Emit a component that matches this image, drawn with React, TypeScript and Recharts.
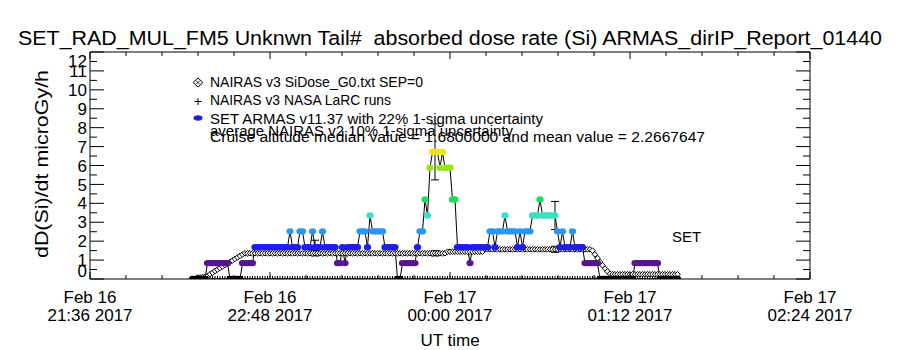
import React from 'react';
import { ComposedChart, Line, Scatter, ErrorBar, XAxis, YAxis } from 'recharts';

// minutes after Feb 16 21:36 UT
const startMinute = 41;

// SET ARMAS v11.37 absorbed dose rate, one value per minute from startMinute
const armasDose = [
  // 41..46
  0, 0, 0, 0, 0, 0,
  // 47..55
  0.84, 0.84, 0.84, 0.84, 0.84, 0.84, 0.84, 0.84, 0.84,
  // 56..60
  0, 0, 0, 0, 0,
  // 61..65
  0.84, 0.84, 0.84, 0.84, 0.84,
  // 66..79
  1.68, 1.68, 1.68, 1.68, 1.68, 1.68, 1.68, 1.68, 1.68, 1.68, 1.68, 1.68, 1.68, 1.68,
  // 80..98
  2.52, 1.68, 1.68, 1.68, 2.52, 2.52, 1.68, 1.68, 1.68, 2.52, 1.68, 1.68, 1.68, 2.52, 1.68, 1.68, 1.68, 1.68, 1.68,
  // 99..122
  0.84, 0.84, 1.68, 0.84, 1.68, 1.68, 1.68, 1.68, 1.68, 2.52, 2.52, 2.52, 1.68, 3.36, 2.52, 2.52, 2.52, 2.52, 2.52,
  1.68, 1.68, 1.68, 1.68, 1.68,
  // 123..146
  0, 0, 0.84, 0.84, 0.84, 0.84, 0.84, 0.84, 1.68, 2.52, 2.52, 4.2, 3.36, 5.88, 6.72, 6.72, 6.72, 5.88, 6.72, 5.88,
  5.88, 5.88, 4.2, 4.2,
  // 147..176
  1.68, 1.68, 1.68, 1.68, 1.68, 0.84, 1.68, 1.68, 1.68, 1.68, 1.68, 1.68, 1.68, 2.52, 2.52, 1.68, 2.52, 2.52, 2.52,
  3.36, 2.52, 2.52, 2.52, 2.52, 1.68, 2.52, 1.68, 2.52, 2.52, 2.52,
  // 177..197
  3.36, 3.36, 3.36, 4.2, 3.36, 3.36, 3.36, 3.36, 3.36, 3.36, 2.52, 1.68, 2.52, 1.68, 1.68, 1.68, 2.52, 1.68, 1.68,
  1.68, 1.68,
  // 198..203
  0.84, 0.84, 0.84, 0.84, 0.84, 0.84,
  // 204..217
  0, 0, 0, 0, 0, 0, 0, 0, 0, 0, 0, 0, 0, 0,
  // 218..227
  0.84, 0.84, 0.84, 0.84, 0.84, 0.84, 0.84, 0.84, 0.84, 0.84,
  // 228..235
  0, 0, 0, 0, 0, 0, 0, 0,
];

// NAIRAS v3 SiDose_G0.txt SEP=0, same minutes
const nairasDose = [
  null, null,
  0.08, 0.08, 0.1, 0.12,
  0.16, 0.25, 0.33, 0.42, 0.5, 0.58, 0.66, 0.74, 0.82, 0.9, 0.98, 1.06, 1.14, 1.22, 1.3, 1.36,
  // 63..142
  1.36, 1.36, 1.36, 1.36, 1.36, 1.36, 1.36, 1.36, 1.36, 1.36,
  1.36, 1.36, 1.36, 1.36, 1.36, 1.36, 1.36, 1.36, 1.36, 1.36,
  1.36, 1.36, 1.36, 1.36, 1.36, 1.36, 1.36, 1.36, 1.36, 1.36,
  1.36, 1.36, 1.36, 1.36, 1.36, 1.36, 1.36, 1.36, 1.36, 1.36,
  1.36, 1.36, 1.36, 1.36, 1.36, 1.36, 1.36, 1.36, 1.36, 1.36,
  1.36, 1.36, 1.36, 1.36, 1.36, 1.36, 1.36, 1.36, 1.36, 1.36,
  1.36, 1.36, 1.36, 1.36, 1.36, 1.36, 1.36, 1.36, 1.36, 1.36,
  1.36, 1.36, 1.36, 1.36, 1.36, 1.36, 1.36, 1.36, 1.36, 1.36,
  // 143..157
  1.44, 1.44, 1.44, 1.44, 1.44, 1.44, 1.44, 1.44, 1.44, 1.44, 1.44, 1.44, 1.44, 1.44, 1.44,
  // 158..200
  1.57, 1.57, 1.57, 1.57, 1.57, 1.57, 1.57, 1.57, 1.57, 1.57,
  1.57, 1.57, 1.57, 1.57, 1.57, 1.57, 1.57, 1.57, 1.57, 1.57,
  1.57, 1.57, 1.57, 1.57, 1.57, 1.57, 1.57, 1.57, 1.57, 1.57,
  1.57, 1.57, 1.57, 1.57, 1.57, 1.57, 1.57, 1.57, 1.57, 1.57,
  1.57, 1.57, 1.57,
  // 201..208
  1.5, 1.3, 1.1, 0.9, 0.72, 0.55, 0.4, 0.28,
  // 209..235
  0.25, 0.25, 0.25, 0.25, 0.25, 0.25, 0.25, 0.25, 0.25, 0.25,
  0.25, 0.25, 0.25, 0.25, 0.25, 0.25, 0.25, 0.25, 0.25, 0.25,
  0.25, 0.25, 0.25, 0.25, 0.25, 0.25, 0.25,
];

// NAIRAS v3 NASA LaRC runs (flat at zero along the flight)
const larcDose = [
  0, 0, 0, 0, 0, 0, 0, 0, 0, 0, 0, 0, 0, 0, 0,
  0, 0, 0, 0, 0, 0, 0, 0, 0, 0, 0, 0, 0, 0, 0,
  0, 0, 0, 0, 0, 0, 0, 0, 0, 0, 0, 0, 0, 0, 0,
  0, 0, 0, 0, 0, 0, 0, 0, 0, 0, 0, 0, 0, 0, 0,
  0, 0, 0, 0, 0, 0, 0, 0, 0, 0, 0, 0, 0, 0, 0,
  0, 0, 0, 0, 0, 0, 0, 0, 0, 0, 0, 0, 0, 0, 0,
  0, 0, 0, 0, 0, 0, 0, 0, 0, 0, 0, 0, 0, 0, 0,
  0, 0, 0, 0, 0, 0, 0, 0, 0, 0, 0, 0, 0, 0, 0,
  0, 0, 0, 0, 0, 0, 0, 0, 0, 0, 0, 0, 0, 0, 0,
  0, 0, 0, 0, 0, 0, 0, 0, 0, 0, 0, 0, 0, 0, 0,
  0, 0, 0, 0, 0, 0, 0, 0, 0, 0, 0, 0, 0, 0, 0,
  0, 0, 0, 0, 0, 0, 0, 0, 0, 0, 0, 0, 0, 0, 0,
  0, 0, 0, 0, 0, 0, 0, 0, 0, 0, 0, 0, 0, 0, 0,
];

// error bars (1-sigma) at a few sample times
const errMinutes = [90, 138, 186];
const armasErrDose = [1.68, 6.72, 3.36];
const armasErrSigma = [0.37, 1.48, 0.74]; // 22%
const nairasErrDose = [1.36, 1.36, 1.57];
const nairasErrSigma = [0.14, 0.14, 0.16]; // 10%

const majorMinutes = [0, 72, 144, 216, 288];
const tickDates = ['Feb 16', 'Feb 16', 'Feb 17', 'Feb 17', 'Feb 17'];
const tickTimes = ['21:36 2017', '22:48 2017', '00:00 2017', '01:12 2017', '02:24 2017'];
const yLabels = [0, 1, 2, 3, 4, 5, 6, 7, 8, 9, 10, 11, 12];

const FONT = '"Liberation Sans", Arial, sans-serif';

const data = armasDose.map((v, i) => ({
  t: startMinute + i,
  armas: v,
  nairas: nairasDose[i],
  larc: larcDose[i],
}));
const armasErrData = errMinutes.map((t, i) => ({ t, v: armasErrDose[i], err: armasErrSigma[i] }));
const nairasErrData = errMinutes.map((t, i) => ({ t, v: nairasErrDose[i], err: nairasErrSigma[i] }));

const xTicks = Array.from({ length: 21 }, (_, i) => (i * 72) / 5);
const yTicks = Array.from({ length: 25 }, (_, i) => i / 2);

// rainbow colour table by dose level
const levelColor = (v: number) => {
  if (v <= 0.01) return '#000000';
  if (v < 1.2) return '#56168c';
  if (v < 2.0) return '#1e1eec';
  if (v < 2.9) return '#2a96f0';
  if (v < 3.8) return '#3ee0c4';
  if (v < 5.0) return '#18e05a';
  if (v < 6.3) return '#96e61a';
  return '#ece41a';
};

const majorIdx = (v: number) => majorMinutes.findIndex((m) => Math.abs(m - v) < 1e-6);

const BottomTick = (p: any) => {
  const idx = majorIdx(p.payload.value);
  return (
    <g>
      <line x1={p.x} y1={p.y} x2={p.x} y2={p.y - (idx >= 0 ? 7 : 4)} stroke="#000" />
      {idx >= 0 && (
        <text x={p.x} y={p.y} textAnchor="middle" fontSize={17} fontFamily={FONT} fill="#000">
          <tspan x={p.x} dy={24}>{tickDates[idx]}</tspan>
          <tspan x={p.x} dy={18}>{tickTimes[idx]}</tspan>
        </text>
      )}
    </g>
  );
};

const TopTick = (p: any) => {
  const idx = majorIdx(p.payload.value);
  if (p.x < 89 || p.x > 811) return <g />;
  return <line x1={p.x} y1={p.y} x2={p.x} y2={p.y + (idx >= 0 ? 7 : 4)} stroke="#000" />;
};

const LeftTick = (p: any) => {
  const v = p.payload.value;
  const major = Number.isInteger(v);
  const shift = v === 0 ? -8 : v === 12 ? 9 : 0;
  return (
    <g>
      <line x1={p.x} y1={p.y} x2={p.x + (major ? 14 : 7)} y2={p.y} stroke="#000" />
      {major && yLabels.includes(v) && (
        <text x={p.x - 3} y={p.y + shift} dy="0.36em" textAnchor="end" fontSize={17} fontFamily={FONT} fill="#000">
          {v}
        </text>
      )}
    </g>
  );
};

const RightTick = (p: any) => {
  const major = Number.isInteger(p.payload.value);
  return <line x1={p.x} y1={p.y} x2={p.x - (major ? 14 : 7)} y2={p.y} stroke="#000" />;
};

const ArmasDot = (p: any) => {
  if (p.cy == null || p.value == null) return <g key={`a${p.index}`} />;
  return <ellipse key={`a${p.index}`} cx={p.cx} cy={p.cy} rx={3.6} ry={3.2} fill={levelColor(p.value)} />;
};

const DiamondDot = (p: any) => {
  if (p.cy == null || p.value == null) return <g key={`n${p.index}`} />;
  const { cx, cy } = p;
  return (
    <polygon
      key={`n${p.index}`}
      points={`${cx},${cy - 2.8} ${cx + 2.8},${cy} ${cx},${cy + 2.8} ${cx - 2.8},${cy}`}
      fill="#fff"
      stroke="#000"
      strokeWidth={1}
    />
  );
};

const PlusDot = (p: any) => {
  if (p.cy == null || p.value == null) return <g key={`l${p.index}`} />;
  const { cx, cy } = p;
  return <path key={`l${p.index}`} d={`M${cx - 2.5},${cy}H${cx + 2.5}M${cx},${cy - 3}V${cy + 3}`} stroke="#000" strokeWidth={1} />;
};

const txt = { fontFamily: FONT, fill: '#000' };

export default function App() {
  return (
    <div style={{ position: 'absolute', left: 0, top: 0, width: 900, height: 350, background: '#fff' }}>
      <ComposedChart width={900} height={350} data={data} margin={{ top: 22, right: 0, bottom: 0, left: 0 }}>
        <XAxis
          dataKey="t"
          type="number"
          domain={[0, 288]}
          allowDataOverflow
          ticks={xTicks}
          interval={0}
          height={71}
          tickSize={0}
          tickMargin={0}
          tickLine={false}
          axisLine={{ stroke: '#000' }}
          tick={BottomTick}
        />
        <XAxis
          xAxisId="top"
          dataKey="t"
          orientation="top"
          type="number"
          domain={[0, 288]}
          allowDataOverflow
          ticks={xTicks}
          interval={0}
          height={30}
          tickSize={0}
          tickMargin={0}
          tickLine={false}
          axisLine={{ stroke: '#000' }}
          tick={TopTick}
        />
        <YAxis
          type="number"
          domain={[0, 12]}
          allowDataOverflow
          ticks={yTicks}
          interval={0}
          width={90}
          tickSize={0}
          tickMargin={0}
          tickLine={false}
          axisLine={{ stroke: '#000' }}
          tick={LeftTick}
        />
        <YAxis
          yAxisId="right"
          orientation="right"
          type="number"
          domain={[0, 12]}
          allowDataOverflow
          ticks={yTicks}
          interval={0}
          width={90}
          tickSize={0}
          tickMargin={0}
          tickLine={false}
          axisLine={{ stroke: '#000' }}
          tick={RightTick}
        />
        {/* invisible series so the top and right frame axes share the plot scales */}
        <Line xAxisId="top" yAxisId="right" dataKey="armas" stroke="none" dot={false} activeDot={false} isAnimationActive={false} />
        <Line dataKey="nairas" stroke="none" dot={DiamondDot} activeDot={false} isAnimationActive={false} connectNulls={false} />
        <Line dataKey="larc" stroke="none" dot={PlusDot} activeDot={false} isAnimationActive={false} />
        <Line dataKey="armas" stroke="#000" strokeWidth={1} type="linear" dot={ArmasDot} activeDot={false} isAnimationActive={false} />
        <Scatter data={nairasErrData} dataKey="v" shape={() => <g />} isAnimationActive={false}>
          <ErrorBar dataKey="err" direction="y" width={4} stroke="#000" strokeWidth={1} isAnimationActive={false} />
        </Scatter>
        <Scatter data={armasErrData} dataKey="v" shape={() => <g />} isAnimationActive={false}>
          <ErrorBar dataKey="err" direction="y" width={4} stroke="#000" strokeWidth={1} isAnimationActive={false} />
        </Scatter>
      </ComposedChart>

      <svg width={900} height={350} style={{ position: 'absolute', left: 0, top: 0, pointerEvents: 'none' }}>
        <text x={18} y={45} fontSize={20} textLength={864} lengthAdjust="spacingAndGlyphs" {...txt}>
          {'SET_RAD_MUL_FM5 Unknwn Tail#\u00a0 absorbed dose rate (Si) ARMAS_dirIP_Report_01440'}
        </text>
        <text
          x={0}
          y={0}
          transform="translate(48,164) rotate(-90)"
          textAnchor="middle"
          fontSize={18}
          textLength={188}
          lengthAdjust="spacingAndGlyphs"
          {...txt}
        >
          dD(Si)/dt microGy/h
        </text>
        <text x={450} y={346} textAnchor="middle" fontSize={17} {...txt}>UT time</text>

        {/* legend */}
        <polygon points="198,78 203,82.5 198,87 193,82.5" fill="#fff" stroke="#000" strokeWidth={1} />
        <path d="M196,80.5L200,84.5M200,80.5L196,84.5" stroke="#000" strokeWidth={0.8} />
        <path d="M194.5,101.5H201.5M198,98V105" stroke="#000" strokeWidth={1} />
        <ellipse cx={198} cy={118} rx={4.5} ry={2.8} fill="#1e1eec" />
        <text x={210} y={86.5} fontSize={14} textLength={213} lengthAdjust="spacingAndGlyphs" {...txt}>
          NAIRAS v3 SiDose_G0.txt SEP=0
        </text>
        <text x={210} y={105} fontSize={14} textLength={181} lengthAdjust="spacingAndGlyphs" {...txt}>
          NAIRAS v3 NASA LaRC runs
        </text>
        <text x={210} y={123.5} fontSize={14} textLength={333} lengthAdjust="spacingAndGlyphs" {...txt}>
          SET ARMAS v11.37 with 22% 1-sigma uncertainty
        </text>
        <text x={210} y={136} fontSize={14} textLength={303} lengthAdjust="spacingAndGlyphs" {...txt}>
          average NAIRAS v2 10% 1-sigma uncertainty
        </text>
        <text x={210} y={142} fontSize={14} textLength={495} lengthAdjust="spacingAndGlyphs" {...txt}>
          Cruise altitude median value = 1.6800000 and mean value = 2.2667647
        </text>
        <text x={672} y={242} fontSize={15} {...txt}>SET</text>
      </svg>
    </div>
  );
}
